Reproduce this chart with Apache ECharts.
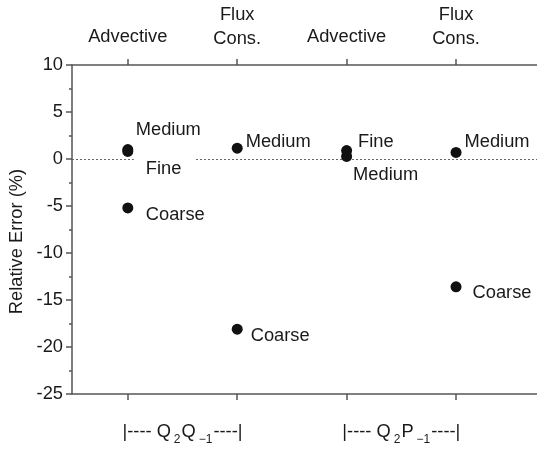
<!DOCTYPE html>
<html>
<head>
<meta charset="utf-8">
<script src="https://cdn.jsdelivr.net/npm/echarts@6/dist/echarts.min.js"></script>
<style>
html,body{margin:0;padding:0;background:#fff;}
#c{width:537px;height:449px;}
</style>
</head>
<body>
<div id="c"></div>
<script>
// ---- data ----
const categories = ['Advective', 'Flux\nCons.', 'Advective', 'Flux\nCons.'];
const categoryX = [1, 2, 3, 4];
const groupX = [1.5, 3.5];
const groupMain = ['Q', 'Q'];
const groupSub1 = ['2', '2'];
const groupSecond = ['Q', 'P'];
const groupSub2 = ['\u22121', '\u22121'];
const yTicks = [-25, -20, -15, -10, -5, 0, 5, 10];
const fine = [0.8, null, 0.9, null];
const medium = [1.0, 1.15, 0.27, 0.7];
const coarse = [-5.2, -18.1, null, -13.6];

// ---- label placement (layout only) ----
const labelOffsets = {
  Fine:   [[12.5, 17], null, [6, -9], null],
  Medium: [[2.5, -19.5], [3, -6], [1, 18.5], [3, -10]],
  Coarse: [[12.5, 7], [8, 6.4], null, [11, 6.6]]
};

const FONT = '"Liberation Sans", Arial, Helvetica, sans-serif';
const TXT = '#1a1a1a';
const AX = '#555';
const FS = 18.3;

function buildSeries(name, values, withLine) {
  const data = [];
  values.forEach(function (v, i) {
    if (v === null) return;
    const off = labelOffsets[name][i];
    const item = {
      value: [categoryX[i], v],
      label: {
        show: true,
        position: 'right',
        distance: 0,
        offset: off,
        formatter: name,
        color: TXT,
        fontFamily: FONT,
        fontSize: FS
      }
    };
    if (name === 'Fine' && i === 0) {
      item.label.backgroundColor = '#fff';
      item.label.padding = [3, 14, 3, 12];
      item.label.offset = [off[0] - 12, off[1]];
    }
    data.push(item);
  });
  const s = {
    name: name,
    type: 'scatter',
    symbol: 'circle',
    symbolSize: 11,
    itemStyle: { color: '#111', opacity: 1 },
    data: data,
    z: 3
  };
  if (withLine) {
    s.markLine = {
      silent: true,
      symbol: 'none',
      label: { show: false },
      lineStyle: { color: '#666', type: [2, 2], width: 1 },
      data: [{ yAxis: 0 }],
      z: 1
    };
  }
  return s;
}

const chart = echarts.init(document.getElementById('c'), null, { renderer: 'canvas' });
chart.setOption({
  animation: false,
  backgroundColor: '#fff',
  textStyle: { fontFamily: FONT },
  grid: { left: 72, right: 0, top: 65, bottom: 55, containLabel: false, outerBoundsMode: 'none' },
  xAxis: [
    {
      type: 'value', position: 'bottom', min: 0.49, max: 4.74,
      axisLine: { show: true, onZero: false, lineStyle: { color: AX, width: 1.5 } },
      axisTick: { show: true, length: 6, customValues: categoryX, lineStyle: { color: AX, width: 1.5 } },
      splitLine: { show: false },
      axisLabel: {
        customValues: groupX,
        margin: 23,
        color: TXT,
        formatter: function (v) {
          const i = groupX.indexOf(v);
          if (i < 0) return '';
          return '{t||---- ' + groupMain[i] + '}{s|' + groupSub1[i] + '}{t|' + groupSecond[i] + '}{s|' + groupSub2[i] + '}{t|----|}';
        },
        rich: {
          t: { fontSize: FS, fontFamily: FONT, color: TXT, lineHeight: 20 },
          s: { fontSize: 12, fontFamily: FONT, color: TXT, padding: [17, 1, 0, 3] }
        }
      }
    },
    {
      type: 'value', position: 'top', min: 0.49, max: 4.74,
      axisLine: { show: true, onZero: false, lineStyle: { color: AX, width: 1.5 } },
      axisTick: { show: true, length: 6, customValues: categoryX, lineStyle: { color: AX, width: 1.5 } },
      splitLine: { show: false },
      axisLabel: {
        customValues: categoryX,
        margin: 14,
        color: TXT,
        fontSize: FS,
        fontFamily: FONT,
        lineHeight: 24,
        formatter: function (v) {
          const i = categoryX.indexOf(v);
          if (i < 0) return '';
          const c = categories[i];
          return c.indexOf('\n') >= 0 ? c : '{one|' + c + '}';
        },
        rich: {
          one: { fontSize: FS, fontFamily: FONT, color: TXT, lineHeight: 24, padding: [0, 0, 4, 0] }
        }
      }
    }
  ],
  yAxis: {
    type: 'value', min: -25, max: 10, interval: 5,
    name: 'Relative Error (%)',
    nameLocation: 'middle',
    nameGap: 39,
    nameTextStyle: { color: TXT, fontSize: FS, fontFamily: FONT, padding: [0, 24, 0, 0] },
    axisLine: { show: true, onZero: false, lineStyle: { color: AX, width: 1.5 } },
    axisTick: { show: true, length: 6, lineStyle: { color: AX, width: 1.5 } },
    minorTick: { show: true, splitNumber: 2, length: 3, lineStyle: { color: AX, width: 1.5 } },
    splitLine: { show: false },
    minorSplitLine: { show: false },
    axisLabel: {
      margin: 9,
      color: TXT,
      fontSize: FS,
      fontFamily: FONT,
      customValues: yTicks
    }
  },
  series: [
    buildSeries('Medium', medium, true),
    buildSeries('Fine', fine, false),
    buildSeries('Coarse', coarse, false)
  ]
});
</script>
</body>
</html>
